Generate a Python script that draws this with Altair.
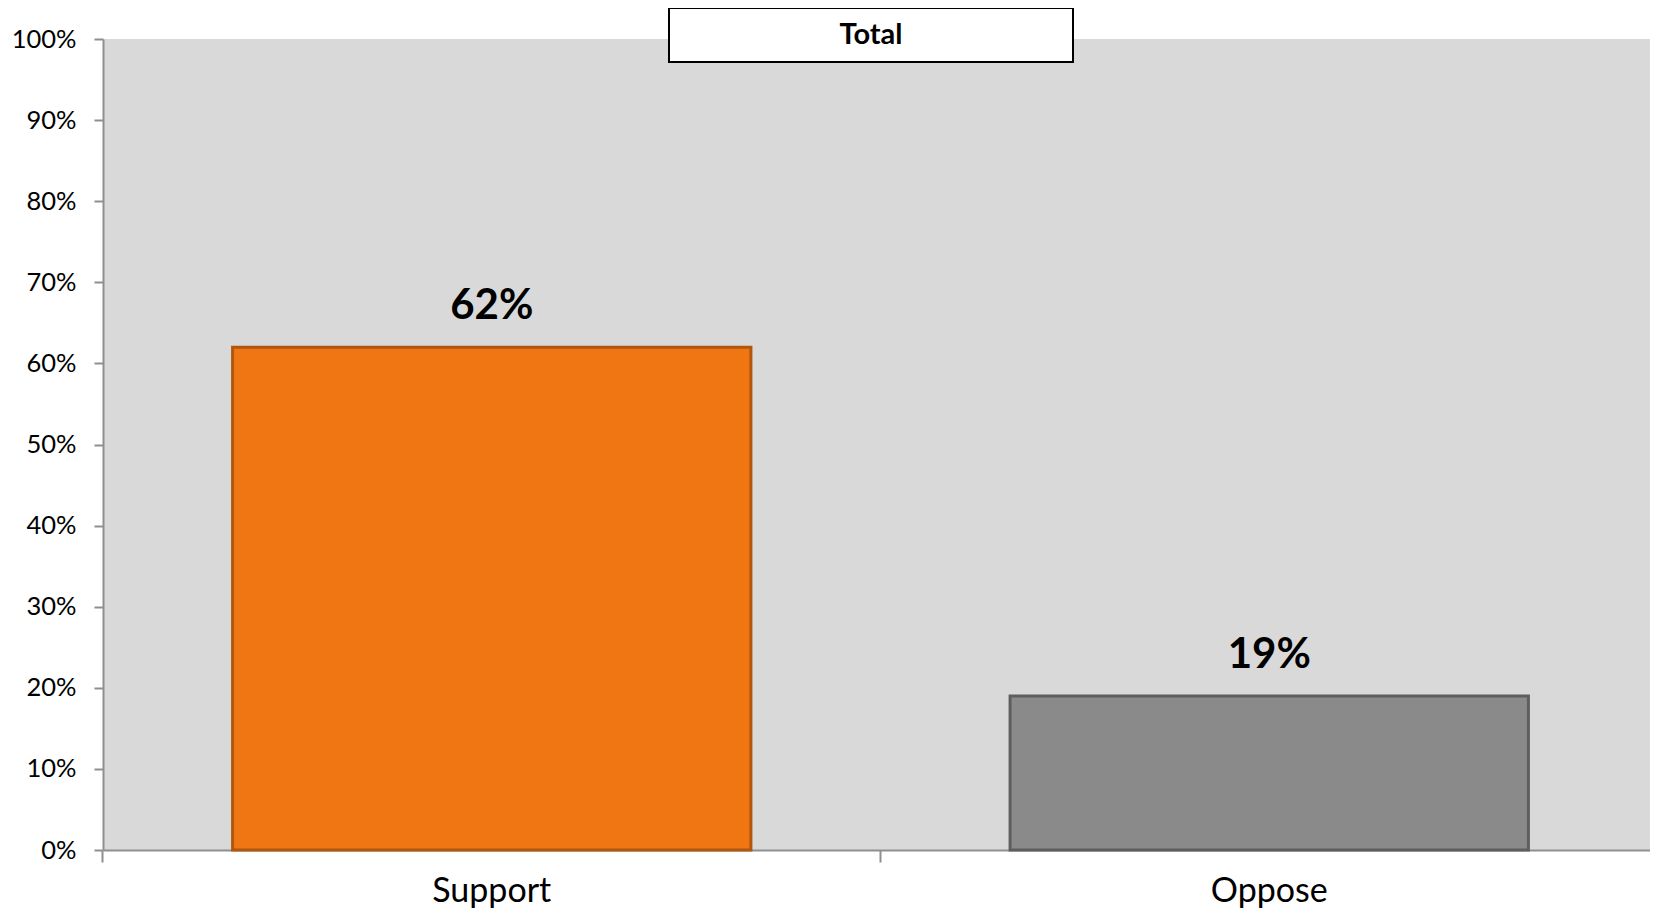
import altair as alt
import pandas as pd

categories = ["Support", "Oppose"]
values = [0.62, 0.19]
bar_colors = ["#F07513", "#8A8A8A"]
edge_colors = ["#B0560E", "#5E5E5E"]
y_ticks = [0, 0.1, 0.2, 0.3, 0.4, 0.5, 0.6, 0.7, 0.8, 0.9, 1.0]
title_text = "Total"

df = pd.DataFrame({"category": categories, "value": values,
                   "fill": bar_colors, "edge": edge_colors})

FONT = "Lato"

x_enc = alt.X("category:N", sort=categories,
              scale=alt.Scale(paddingInner=1/3, paddingOuter=1/6),
              axis=alt.Axis(title=None, labelAngle=0, labelFont=FONT, labelFontSize=34,
                            labelColor="#000000", labelBaseline="alphabetic",
                            labelPadding=39, bandPosition=-0.25, tickSize=12,
                            tickWidth=2, tickColor="#8F8F8F", domainColor="#8F8F8F",
                            domainWidth=2, grid=False))
y_enc = alt.Y("value:Q", scale=alt.Scale(domain=[0, 1], nice=False),
              axis=alt.Axis(title=None, values=y_ticks, format=".0%", labelFont=FONT,
                            labelFontSize=25.5, labelColor="#000000", labelPadding=18,
                            tickSize=9, tickWidth=2, tickColor="#8F8F8F",
                            domainColor="#8F8F8F", domainWidth=2, grid=False))

base = alt.Chart(df)

bars = base.mark_bar(strokeWidth=3).encode(
    x=x_enc, y=y_enc,
    fill=alt.Fill("fill:N", scale=None),
    stroke=alt.Stroke("edge:N", scale=None),
)

labels = base.mark_text(font=FONT, fontSize=42, fontWeight="bold", color="#000000",
                        baseline="alphabetic", dy=-28).encode(
    x=alt.X("category:N", sort=categories), y="value:Q",
    text=alt.Text("value:Q", format=".0%"),
)

title_df = pd.DataFrame({"t": [title_text]})
title_box = alt.Chart(title_df).mark_rect(fill="white", stroke="black", strokeWidth=2).encode(
    x=alt.value(566), x2=alt.value(970), y=alt.value(-31), y2=alt.value(23),
)
title_lbl = alt.Chart(title_df).mark_text(font=FONT, fontSize=29, fontWeight="bold",
                                          color="#000000", baseline="middle", align="center").encode(
    x=alt.value(768), y=alt.value(-4), text="t:N",
)

chart = alt.layer(bars, labels, title_box, title_lbl).properties(
    width=1555, height=811,
    autosize=alt.AutoSizeParams(type="none"),
    padding={"left": 95, "top": 31, "right": -8, "bottom": 59},
    background="white",
).configure_view(fill="#D9D9D9", stroke=None)

chart.save("out.html", embed_options={"renderer": "svg", "actions": False})
